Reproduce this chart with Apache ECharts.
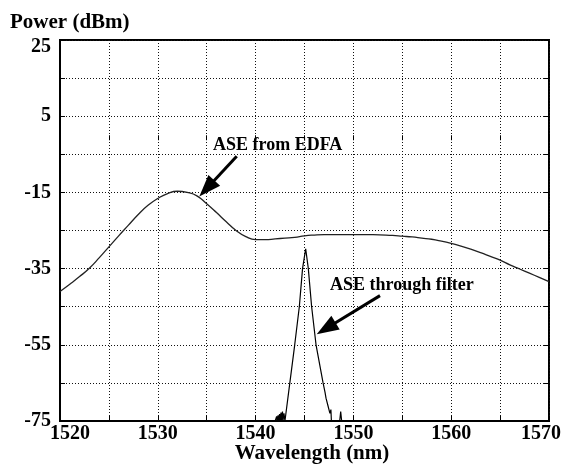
<!DOCTYPE html>
<html>
<head>
<meta charset="utf-8">
<script src="https://cdn.jsdelivr.net/npm/echarts@6/dist/echarts.min.js"></script>
<style>
html,body{margin:0;padding:0;background:#fff;}
#chart{width:565px;height:466px;}
</style>
</head>
<body>
<div id="chart"></div>
<script>
// ASE from EDFA spectrum
const edfaWavelength = [1520,1521,1522,1523,1524,1525,1526,1527,1528,1529,1530,1531,1532,1533,1534,1535,1536,1537,1538,1539,1540,1541,1542,1543,1544,1545,1546,1547,1548,1550,1552,1554,1555,1556,1557,1558,1559,1560,1561,1562,1563,1564,1565,1566,1567,1568,1569,1570];
const edfaPower = [-41.0,-39.1,-37.1,-34.9,-32.2,-29.3,-26.4,-23.6,-20.8,-18.4,-16.6,-15.3,-14.7,-15.0,-15.9,-18.0,-20.3,-22.7,-25.0,-26.6,-27.4,-27.4,-27.2,-27.0,-26.8,-26.4,-26.2,-26.1,-26.1,-26.1,-26.1,-26.3,-26.5,-26.7,-27.0,-27.3,-27.8,-28.4,-29.1,-29.9,-30.8,-31.8,-32.8,-34.0,-35.1,-36.2,-37.3,-38.4];

// ASE through filter
const filterWavelength = [1542.0,1542.1,1542.15,1542.2,1542.3,1542.35,1542.45,1542.5,1542.6,1542.65,1542.75,1542.8,1542.9,1542.95,1543.0,1543.5,1544.0,1544.47,1544.8,1545.12,1545.39,1545.73,1546.18,1546.9,1547.1,1547.2,1547.3,1547.4,1547.5,1547.6,1547.7,1547.75,1548.0,1548.6,1548.7,1548.8];
const filterPower = [-75,-75,-73.8,-75,-73.5,-75,-73.2,-75,-72.8,-75,-72.5,-75,-73,-74,-75,-65,-55,-45,-35,-29.8,-35,-45,-55,-65,-67.5,-69,-68.5,-71,-70.5,-73,-72,-75,-75,-75,-72.5,-75];

// Axes
const xMin = 1520, xMax = 1570, xStep = 5;
const xLabelValues = [1520,1530,1540,1550,1560,1570];
const yTickValues = [-75,-65,-55,-45,-35,-25,-15,-5,5,15,25];
const yLabelValues = [-75,-55,-35,-15,5,25];

// Annotation arrows [startX, startY, headX, headY]
const arrowEdfa = [1538.07, -5.5, 1535.01, -13.95];
const arrowFilter = [1552.72, -42.1, 1547.21, -50.7];

const FONT = 'Liberation Serif';
const chart = echarts.init(document.getElementById('chart'), null, {renderer:'canvas'});

const splitStyle = {show:true, lineStyle:{color:'#111', width:1, type:[1,2]}};
const tickStyle = {show:true, inside:true, length:5, lineStyle:{color:'#000', width:1}};

chart.setOption({
  animation:false,
  backgroundColor:'#fff',
  grid:{left:60, right:16, top:40, bottom:45, show:true, borderColor:'#000', borderWidth:2, backgroundColor:'transparent'},
  xAxis:[{
    type:'value', min:xMin, max:xMax, interval:xStep, position:'bottom',
    axisLine:{show:true, onZero:false, lineStyle:{color:'#000', width:2}},
    axisTick:tickStyle,
    splitLine:splitStyle,
    axisLabel:{
      show:true, margin:3, color:'#000', fontFamily:FONT, fontWeight:'bold', fontSize:20,
      formatter:function(v){
        if (xLabelValues.indexOf(v) < 0) return '';
        if (v === xMin) return '{l|' + v + '}';
        if (v === xMax) return '{r|' + v + '}';
        return '{n|' + v + '}';
      },
      rich:{
        n:{fontFamily:FONT, fontWeight:'bold', fontSize:20, color:'#000'},
        l:{fontFamily:FONT, fontWeight:'bold', fontSize:20, color:'#000', padding:[0,0,0,20]},
        r:{fontFamily:FONT, fontWeight:'bold', fontSize:20, color:'#000', padding:[0,16,0,0]}
      }
    }
  },{
    type:'value', min:xMin, max:xMax, interval:xStep, position:'top',
    axisLine:{show:false}, axisTick:tickStyle, axisLabel:{show:false}, splitLine:{show:false}
  }],
  yAxis:[{
    type:'value', min:-75, max:25, position:'left',
    axisLine:{show:true, onZero:false, lineStyle:{color:'#000', width:2}},
    axisTick:Object.assign({customValues:yTickValues}, tickStyle),
    splitLine:splitStyle,
    axisLabel:{
      show:true, margin:9, color:'#000', fontFamily:FONT, fontWeight:'bold', fontSize:20,
      customValues:yLabelValues,
      formatter:function(v){
        if (v === 25) return '{t|' + v + '}';
        return '{n|' + v + '}';
      },
      rich:{
        n:{fontFamily:FONT, fontWeight:'bold', fontSize:20, color:'#000'},
        t:{fontFamily:FONT, fontWeight:'bold', fontSize:20, color:'#000', padding:[14,0,0,0]}
      }
    }
  },{
    type:'value', min:-75, max:25, position:'right',
    axisLine:{show:false}, axisTick:Object.assign({customValues:yTickValues}, tickStyle),
    axisLabel:{show:false}, splitLine:{show:false}
  }],
  series:[{
    type:'line', name:'ASE from EDFA', xAxisIndex:0, yAxisIndex:0,
    data:edfaWavelength.map((w,i)=>[w, edfaPower[i]]),
    smooth:0.5, showSymbol:false, symbol:'none',
    lineStyle:{color:'#222', width:1.3},
    z:3,
    markLine:{
      silent:true, animation:false,
      symbol:['none','triangle'], symbolSize:[16,22],
      lineStyle:{color:'#000', width:3, type:'solid'},
      label:{show:false},
      data:[
        [{coord:[arrowEdfa[0],arrowEdfa[1]]},{coord:[arrowEdfa[2],arrowEdfa[3]]}],
        [{coord:[arrowFilter[0],arrowFilter[1]]},{coord:[arrowFilter[2],arrowFilter[3]]}]
      ]
    }
  },{
    type:'line', name:'ASE through filter', xAxisIndex:0, yAxisIndex:0,
    data:filterWavelength.map((w,i)=>[w, filterPower[i]]),
    showSymbol:false, symbol:'none',
    lineStyle:{color:'#000', width:1.2},
    z:3
  }],
  graphic:[
    {type:'text', left:10, top:12, style:{text:'Power (dBm)', fill:'#000', font:'bold 21px "Liberation Serif"'}},
    {type:'text', x:312, y:454, style:{text:'Wavelength (nm)', fill:'#000', font:'bold 21px "Liberation Serif"', align:'center', verticalAlign:'middle'}},
    {type:'text', x:213, y:145, style:{text:'ASE from EDFA', fill:'#000', font:'bold 18px "Liberation Serif"', align:'left', verticalAlign:'middle'}},
    {type:'text', x:330, y:285, style:{text:'ASE through filter', fill:'#000', font:'bold 18px "Liberation Serif"', align:'left', verticalAlign:'middle'}}
  ]
});
</script>
</body>
</html>
